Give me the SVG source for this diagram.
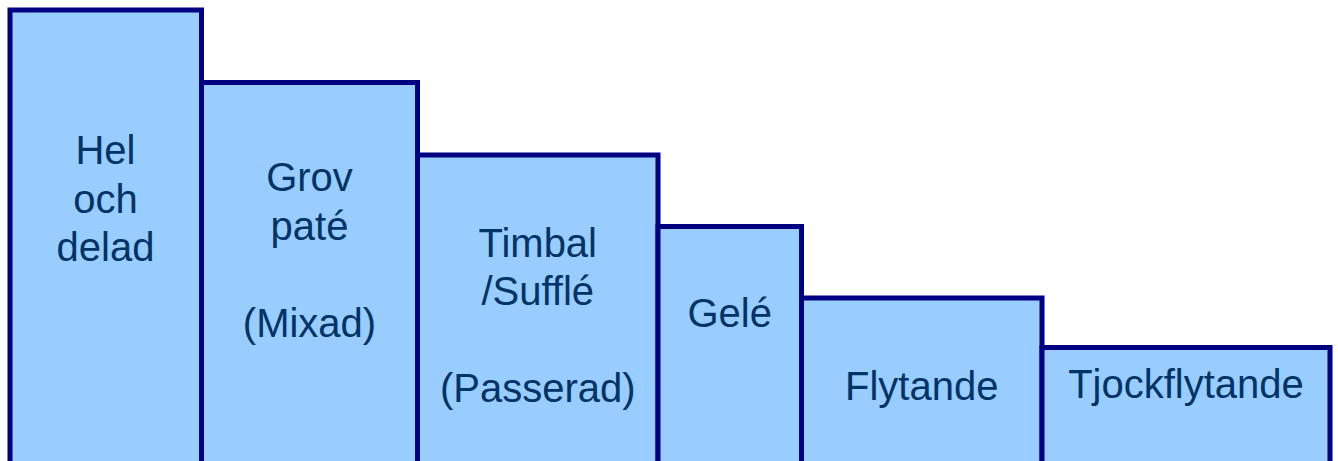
<svg xmlns="http://www.w3.org/2000/svg" width="1338" height="461" viewBox="0 0 1338 461">
<style>
.bar{fill:#99CCFF;stroke:#000080;stroke-width:5}
.lbl{font-family:"Liberation Sans",Arial,sans-serif;font-size:40px;fill:#003366;text-anchor:middle}
</style>
<rect width="1338" height="461" fill="#FFFFFF"/>
<g id="connectors"></g>
<g id="bar-hel">
<rect class="bar" x="10" y="10" width="191.5" height="470"/>
<text class="lbl" x="105.5" y="164">Hel</text>
<text class="lbl" x="105.5" y="212.5">och</text>
<text class="lbl" x="105.5" y="261">delad</text>
</g>
<g id="bar-grov">
<rect class="bar" x="201.5" y="82.5" width="216" height="400"/>
<text class="lbl" x="309.5" y="191">Grov</text>
<text class="lbl" x="309.5" y="239.5">paté</text>
<text class="lbl" x="309.5" y="336.5">(Mixad)</text>
</g>
<g id="bar-timbal">
<rect class="bar" x="417.5" y="155" width="240.5" height="330"/>
<text class="lbl" x="537.75" y="256.5">Timbal</text>
<text class="lbl" x="537.75" y="305">/Sufflé</text>
<text class="lbl" x="537.75" y="402">(Passerad)</text>
</g>
<g id="bar-gele">
<rect class="bar" x="658" y="226.5" width="143.5" height="260"/>
<text class="lbl" x="729.75" y="327">Gelé</text>
</g>
<g id="bar-flytande">
<rect class="bar" x="801.5" y="298" width="240.5" height="190"/>
<text class="lbl" x="921.75" y="399.5">Flytande</text>
</g>
<g id="bar-tjockflytande">
<rect class="bar" x="1042" y="347.5" width="288" height="140"/>
<text class="lbl" x="1186" y="398">Tjockflytande</text>
</g>
</svg>
